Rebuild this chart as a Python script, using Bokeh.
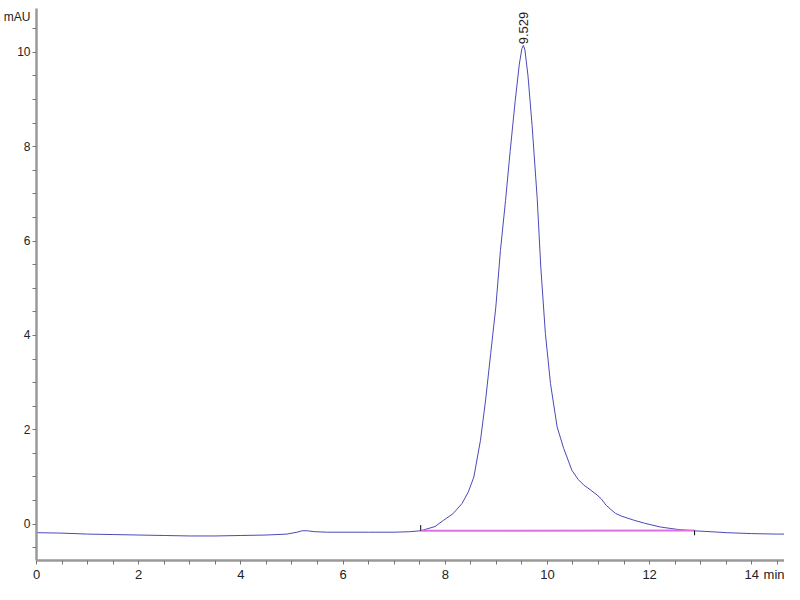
import math
from bokeh.plotting import figure
from bokeh.models import Range1d, FixedTicker
from bokeh.core.properties import value
from bokeh.embed import file_html
from bokeh.resources import INLINE

# Chromatogram trace (time in min, absorbance in mAU)
time_min = [0.0, 0.5, 1.0, 1.5, 2.0, 2.5, 3.0, 3.5, 4.0, 4.5, 4.9, 5.1, 5.2, 5.3, 5.45,
            5.7, 6.0, 6.5, 7.0, 7.3, 7.52, 7.8, 7.97, 8.15, 8.33, 8.45, 8.56, 8.69,
            8.79, 8.89, 8.99, 9.08, 9.18, 9.27, 9.37, 9.45, 9.50, 9.529, 9.56, 9.62,
            9.70, 9.80, 9.87, 9.96, 10.06, 10.19, 10.32, 10.48, 10.60, 10.71, 10.85,
            10.97, 11.05, 11.15, 11.33, 11.45, 11.69, 11.90, 12.21, 12.54, 12.86,
            13.2, 13.5, 14.0, 14.5, 14.85]
signal_mau = [-0.18, -0.19, -0.21, -0.22, -0.23, -0.24, -0.25, -0.25, -0.24, -0.23,
              -0.21, -0.17, -0.14, -0.14, -0.16, -0.17, -0.17, -0.17, -0.17, -0.16,
              -0.14, -0.05, 0.085, 0.22, 0.44, 0.68, 1.0, 1.78, 2.63, 3.62, 4.6, 5.8,
              6.86, 7.9, 8.98, 9.75, 10.08, 10.15, 10.05, 9.5, 8.45, 6.9, 5.45, 4.04,
              2.98, 2.06, 1.6, 1.14, 0.95, 0.83, 0.72, 0.62, 0.54, 0.40, 0.23, 0.17,
              0.085, 0.02, -0.06, -0.11, -0.14, -0.16, -0.18, -0.20, -0.21, -0.21]

# Peak annotation and integration baseline
peak_rt = [9.529]
peak_height = [10.15]
peak_label = ["9.529"]
base_t = [7.52, 12.88]
base_y = [-0.14, -0.135]

# Axis ticks; the unit names sit in the tick-label rows like the original
x_ticks = [0, 2, 4, 6, 8, 10, 12, 14]
y_ticks = [0, 2, 4, 6, 8, 10]
x_unit = "min"
y_unit = "mAU"
x_unit_pos = 14.47
y_unit_pos = 10.75
x_minor = [i * 0.5 for i in range(0, 30)]
y_minor = [i * 0.5 - 0.5 for i in range(0, 24)]

FONT = "Liberation Sans"

p = figure(width=784, height=584, output_backend="svg", toolbar_location=None,
           x_range=Range1d(0, 14.64), y_range=Range1d(-0.77, 10.93),
           min_border_left=35, min_border_right=0, min_border_top=8,
           min_border_bottom=22)
p.outline_line_color = None
p.xgrid.visible = False
p.ygrid.visible = False
p.background_fill_color = "white"
p.border_fill_color = "white"

axes = ((p.xaxis[0], x_ticks + [x_unit_pos], x_minor, {x_unit_pos: x_unit}, 2, "13px"),
        (p.yaxis[0], y_ticks + [y_unit_pos], y_minor, {y_unit_pos: y_unit}, 2, "12px"))
for ax, ticks, minor, overrides, standoff, fsize in axes:
    ax.ticker = FixedTicker(ticks=ticks, minor_ticks=minor)
    ax.major_label_overrides = overrides
    ax.axis_line_color = "#9a9a9a"
    ax.axis_line_width = 2.5
    ax.major_tick_line_color = None
    ax.minor_tick_line_color = "#777777"
    ax.major_tick_in = 0
    ax.major_tick_out = 0
    ax.minor_tick_in = 0
    ax.minor_tick_out = 4
    ax.major_label_text_font = FONT
    ax.major_label_text_font_size = fsize
    ax.major_label_text_color = "#222222"
    ax.major_label_standoff = standoff

p.line(time_min, signal_mau, line_color="#4a4ab8", line_width=1)
p.line(base_t, base_y, line_color="#e070e0", line_width=2)
# integration start/end markers
p.segment(x0=[base_t[0]], y0=[base_y[0]], x1=[base_t[0]], y1=[base_y[0] + 0.12],
          line_color="black", line_width=1)
p.segment(x0=[base_t[1]], y0=[base_y[1]], x1=[base_t[1]], y1=[base_y[1] - 0.1],
          line_color="black", line_width=1)

p.text(x=peak_rt, y=peak_height, text=peak_label, angle=math.pi / 2,
       text_align="left", text_baseline="middle", text_font=value(FONT),
       text_font_size="13px", text_color="#222222", y_offset=-1)

open("out.html", "w").write(file_html(p, INLINE))
